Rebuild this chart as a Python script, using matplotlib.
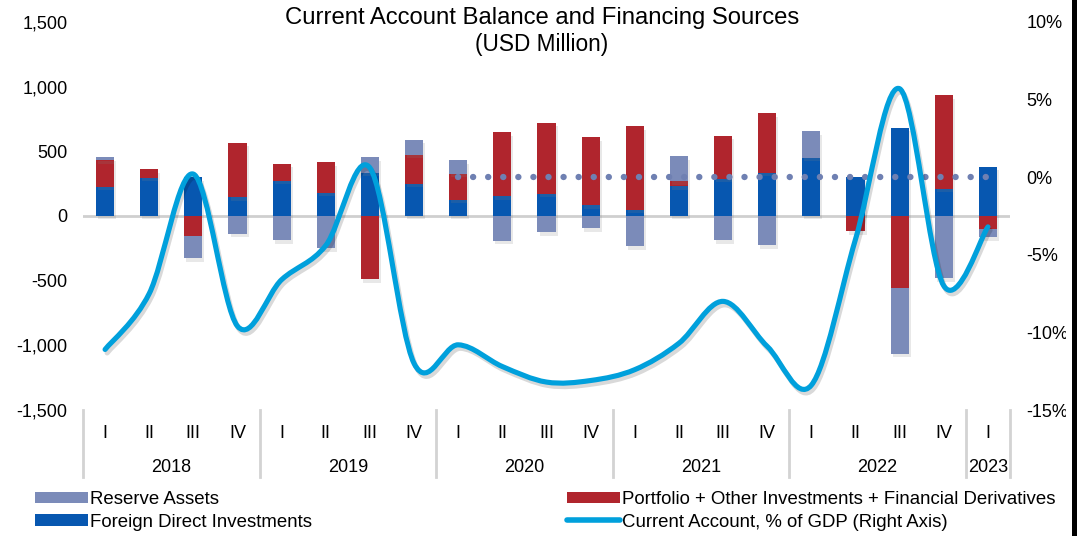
import numpy as np
import matplotlib
matplotlib.use("Agg")
import matplotlib.pyplot as plt
from matplotlib.patches import Patch, Rectangle
from matplotlib.lines import Line2D
from matplotlib.path import Path
from matplotlib.patches import PathPatch
import matplotlib.patheffects as pe
from matplotlib.ticker import FuncFormatter

plt.rcParams['font.family'] = ['Liberation Sans', 'DejaVu Sans']

# ---------------- data ----------------
quarters = ['I', 'II', 'III', 'IV'] * 5 + ['I']
years = ['2018', '2019', '2020', '2021', '2022', '2023']
year_sizes = [4, 4, 4, 4, 4, 1]

fdi = [225, 295, 300, 144, 274, 178, 333, 248, 126, 152, 170, 82,
       49, 229, 289, 333, 449, 300, 682, 212, 382]
portfolio = [206, 68, -158, 422, 129, 237, -488, 227, 202, 496, 551, 527,
             645, 39, 333, 460, 0, -119, -558, 720, -100]
reserve = [23, 0, -168, -137, -189, -248, 121, 116, 103, -191, -124, -93,
           -235, 194, -189, -228, 207, 0, -509, -480, -63]
current_account = [-11.1, -7.5, 0.2, -9.6, -6.6, -4.4, 0.6, -12.0,
                   -10.8, -12.2, -13.2, -13.1, -12.4, -10.7, -8.0, -10.9,
                   -13.4, -4.0, 5.7, -7.0, -3.2]
zero_ref = [np.nan] * 8 + [0] * 13

# ---------------- style ----------------
C_RES = '#7b8bb9'
C_PORT = '#b0252d'
C_FDI = '#0757b0'
C_CA = '#00a0dc'
C_DOT = '#6f80b2'
FS = 13

W, H = 1085, 536
fig = plt.figure(figsize=(W / 100, H / 100), dpi=100)
ax = fig.add_axes([83 / W, 1 - 410 / H, (1010 - 83) / W, (410 - 22) / H])
ax2 = ax.twinx()

n = len(quarters)
x = np.arange(n)
bw = 0.41

# stacked bars: positives up from zero, negatives down from zero
pos_base = np.zeros(n)
neg_base = np.zeros(n)
shadow = [pe.SimplePatchShadow(offset=(1.5, -2.5), alpha=0.18, shadow_rgbFace='#808080'), pe.Normal()]
for vals, col in [(fdi, C_FDI), (portfolio, C_PORT), (reserve, C_RES)]:
    v = np.array(vals, dtype=float)
    base = np.where(v >= 0, pos_base, neg_base)
    bars = ax.bar(x, v, bw, bottom=base, color=col, linewidth=0, zorder=3)
    for b in bars:
        b.set_path_effects(shadow)
    pos_base = pos_base + np.where(v > 0, v, 0)
    neg_base = neg_base + np.where(v < 0, v, 0)

ax.axhline(0, color='#cfcfcf', lw=2, zorder=2)

ax.set_xlim(-0.5, n - 0.5)
ax.set_ylim(-1500, 1500)
ax.set_yticks(np.arange(-1500, 1501, 500))
ax.yaxis.set_major_formatter(FuncFormatter(lambda v, p: f"{int(v):,}"))
ax.tick_params(axis='y', length=0, pad=11, labelsize=FS)
ax.set_xticks([])
for s in ax.spines.values():
    s.set_visible(False)

ax2.set_ylim(-15, 10)
ax2.set_yticks(np.arange(-15, 11, 5))
ax2.yaxis.set_major_formatter(FuncFormatter(lambda v, p: f"{int(v)}%"))
ax2.tick_params(axis='y', length=0, pad=12, labelsize=FS)
for s in ax2.spines.values():
    s.set_visible(False)

# dotted zero reference (right axis)
ax2.plot(x, zero_ref, color=C_DOT, lw=4.6, linestyle=(0, (0.01, 2.35)),
         dash_capstyle='round', zorder=4)

# smoothed current-account line (Bezier segments through the data points)
ca = np.array(current_account)
verts = [(x[0], ca[0])]
codes = [Path.MOVETO]
for i in range(n - 1):
    p0 = np.array([x[max(i - 1, 0)], ca[max(i - 1, 0)]])
    p1 = np.array([x[i], ca[i]])
    p2 = np.array([x[i + 1], ca[i + 1]])
    p3 = np.array([x[min(i + 2, n - 1)], ca[min(i + 2, n - 1)]])
    c1 = p1 + (p2 - p0) / 6.0
    c2 = p2 - (p3 - p1) / 6.0
    verts += [tuple(c1), tuple(c2), tuple(p2)]
    codes += [Path.CURVE4] * 3
ca_patch = PathPatch(Path(verts, codes), facecolor='none', edgecolor=C_CA,
                     lw=3.7, capstyle='round', joinstyle='round', zorder=5)
ca_patch.set_path_effects([pe.SimpleLineShadow(offset=(1.5, -2.5), alpha=0.15), pe.Normal()])
ax2.add_patch(ca_patch)

# category labels
xt = ax.get_xaxis_transform()
y_q = (410 - 433) / (410 - 22)
y_y = (410 - 467) / (410 - 22)
y_sep = (410 - 477) / (410 - 22)
for i, q in enumerate(quarters):
    ax.text(i, y_q, q, transform=xt, ha='center', va='center', fontsize=FS)
start = 0
bounds = [-0.5]
for yr, sz in zip(years, year_sizes):
    ax.text(start + (sz - 1) / 2, y_y, yr, transform=xt, ha='center', va='center', fontsize=FS)
    start += sz
    bounds.append(start - 0.5)
for b in bounds:
    ax.add_line(Line2D([b, b], [0, y_sep], transform=xt, color='#d3d3d3', lw=2, clip_on=False))

# title
fig.text(542 / W, 1 - 18 / H, 'Current Account Balance and Financing Sources',
         ha='center', va='center', fontsize=17.2)
fig.text(542 / W, 1 - 45 / H, '(USD Million)', ha='center', va='center', fontsize=16.3)

# legends
h_res = Patch(facecolor=C_RES, edgecolor='none')
h_fdi = Patch(facecolor=C_FDI, edgecolor='none')
h_port = Patch(facecolor=C_PORT, edgecolor='none')
h_ca = Line2D([], [], color=C_CA, lw=4, solid_capstyle='round')
LFS = 13.4
common = dict(frameon=False, fontsize=LFS, borderpad=0, borderaxespad=0,
              handlelength=2.85, handleheight=0.55, handletextpad=0.12,
              labelspacing=0.3, loc='upper left')
fig.legend([h_res, h_fdi], ['Reserve Assets', 'Foreign Direct Investments'],
           bbox_to_anchor=(35 / W, 1 - 491 / H), **common)
fig.legend([h_port, h_ca], ['Portfolio + Other Investments + Financial Derivatives',
                            'Current Account, % of GDP (Right Axis)'],
           bbox_to_anchor=(567 / W, 1 - 491 / H), **common)

# right border as in reference
fig.add_artist(Rectangle((1066 / W, 0), 6 / W, 1, transform=fig.transFigure,
                         facecolor='white', edgecolor='none', zorder=20))
fig.add_artist(Rectangle((1072 / W, 0), 5 / W, 1, transform=fig.transFigure,
                         facecolor='black', edgecolor='none', zorder=21))

fig.savefig('out.png', dpi=100)
